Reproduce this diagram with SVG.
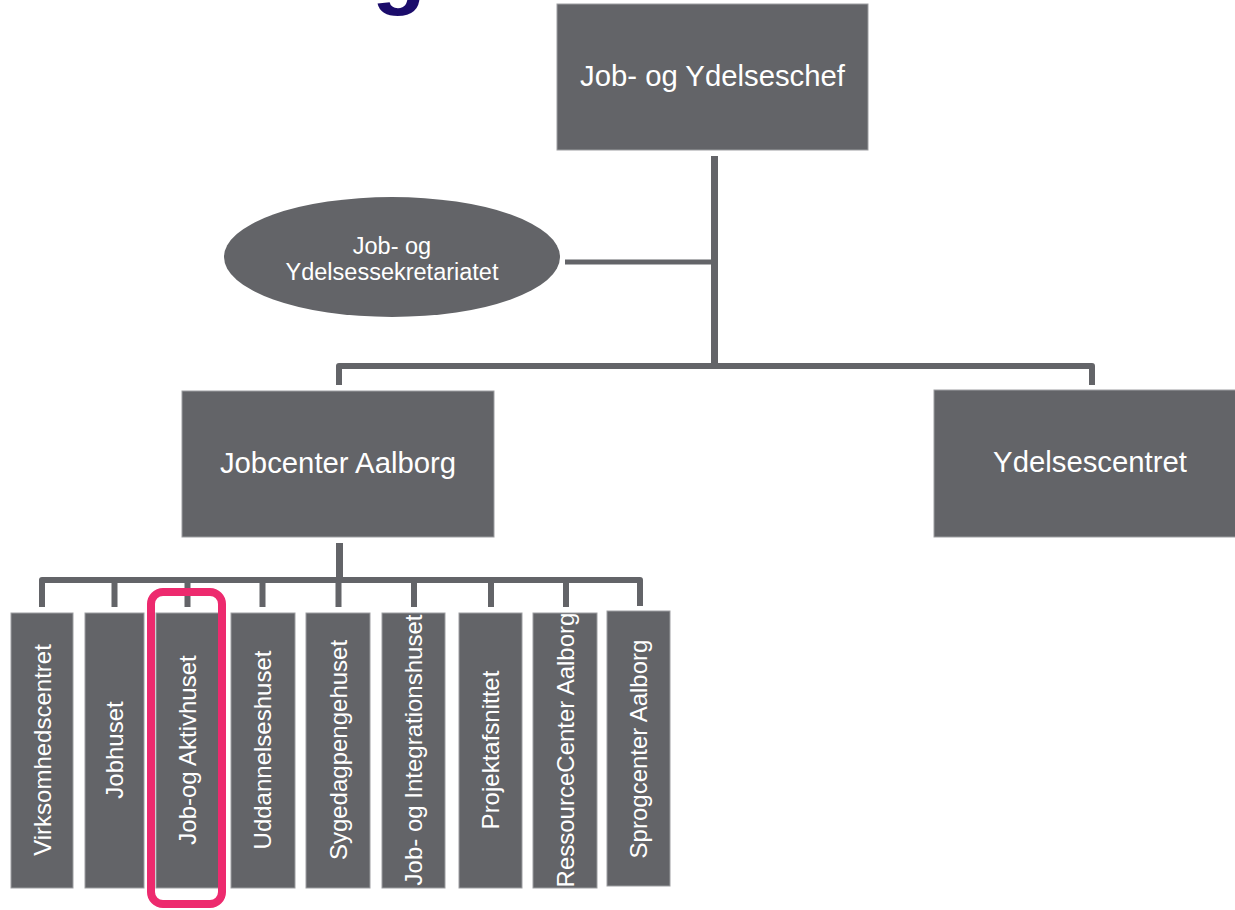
<svg xmlns="http://www.w3.org/2000/svg" width="1235" height="910" viewBox="0 0 1235 910">
<style>
.box{fill:#636468;stroke:#9d9ea1;stroke-width:1}
.t{font-family:"Liberation Sans",Arial,sans-serif;fill:#ffffff;text-anchor:middle}
.big{font-size:29.3px}
.mid{font-size:23.5px}
.v{font-size:24px}
.con{fill:none;stroke:#636468;stroke-linejoin:round;stroke-linecap:butt}
</style>
<rect width="1235" height="910" fill="#ffffff"/>
<text x="372" y="-2" font-family="Liberation Sans,Arial,sans-serif" font-weight="bold" font-size="88" fill="#1b0c6b">g</text>
<g id="connectors">
<path class="con" stroke-width="7" d="M714.5 156 V366"/>
<path class="con" stroke-width="6" d="M339 385 V366 H1092 V385"/>
<path class="con" stroke-width="5" d="M565 262 H714"/>
<path class="con" stroke-width="7" d="M339.5 543 V580"/>
<path class="con" stroke-width="6" d="M42 607 V580 H640 V606"/>
<path class="con" stroke-width="6" d="M114.5 580 V607 M187.5 580 V607 M262.5 580 V607 M338.5 580 V607 M414 580 V607 M491 580 V607 M566 580 V607"/>
</g>
<g id="n-chef">
<rect class="box" x="557" y="4" width="311" height="146"/>
<text class="t big" x="712.5" y="86">Job- og Ydelseschef</text>
</g>
<g id="n-sekretariat">
<ellipse cx="392" cy="257" rx="168" ry="60" fill="#636468"/>
<text class="t mid" x="392" y="254">Job- og</text>
<text class="t mid" x="392" y="280">Ydelsessekretariatet</text>
</g>
<g id="n-jobcenter">
<rect class="box" x="182" y="391" width="312" height="146"/>
<text class="t big" x="338" y="473">Jobcenter Aalborg</text>
</g>
<g id="n-ydelsescentret">
<rect class="box" x="934" y="390" width="305" height="147"/>
<text class="t big" x="1090" y="472">Ydelsescentret</text>
</g>
<g id="n-virksomhedscentret">
<rect class="box" x="11" y="613" width="62" height="275"/>
<text class="t v" transform="translate(50.5 750) rotate(-90)">Virksomhedscentret</text>
</g>
<g id="n-jobhuset">
<rect class="box" x="85" y="613" width="59" height="275"/>
<text class="t v" transform="translate(123 750) rotate(-90)">Jobhuset</text>
</g>
<g id="n-jobogaktivhuset">
<rect class="box" x="156" y="613" width="64" height="275"/>
<text class="t v" transform="translate(196 750) rotate(-90)">Job-og Aktivhuset</text>
</g>
<g id="n-uddannelseshuset">
<rect class="box" x="231" y="613" width="64" height="275"/>
<text class="t v" transform="translate(271 750) rotate(-90)">Uddannelseshuset</text>
</g>
<g id="n-sygedagpengehuset">
<rect class="box" x="306" y="613" width="64" height="275"/>
<text class="t v" transform="translate(346.5 750) rotate(-90)">Sygedagpengehuset</text>
</g>
<g id="n-integrationshuset">
<rect class="box" x="382" y="613" width="63" height="275"/>
<text class="t v" transform="translate(422 750) rotate(-90)">Job- og Integrationshuset</text>
</g>
<g id="n-projektafsnittet">
<rect class="box" x="459" y="613" width="63" height="275"/>
<text class="t v" transform="translate(499 750) rotate(-90)">Projektafsnittet</text>
</g>
<g id="n-ressourcecenter">
<rect class="box" x="533" y="613" width="64" height="275"/>
<text class="t v" transform="translate(573.5 750) rotate(-90)">RessourceCenter Aalborg</text>
</g>
<g id="n-sprogcenter">
<rect class="box" x="607" y="611" width="63" height="275"/>
<text class="t v" transform="translate(647 749) rotate(-90)">Sprogcenter Aalborg</text>
</g>
<g id="highlight">
<rect x="151" y="592" width="71" height="312" rx="12" ry="12" fill="none" stroke="#ed2a6e" stroke-width="8"/>
</g>
</svg>
